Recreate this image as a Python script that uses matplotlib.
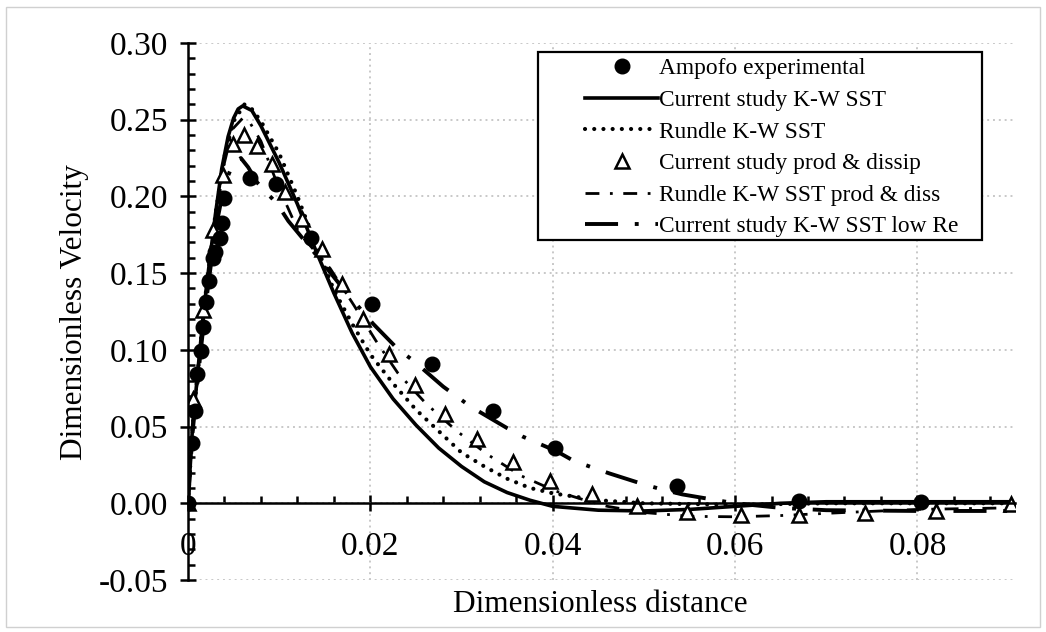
import numpy as np
import matplotlib.pyplot as plt
from matplotlib.patches import Rectangle
from matplotlib.ticker import MultipleLocator, FuncFormatter

plt.rcParams['font.family'] = ['Liberation Serif', 'DejaVu Serif']

## Ampofo experimental (filled circles)
amp_x = [0.0, 0.0004, 0.0008, 0.0010, 0.0014, 0.0016, 0.0020, 0.0023, 0.0027, 0.0030,
         0.0035, 0.0037, 0.0040, 0.0068, 0.0096, 0.0135, 0.0202, 0.0268, 0.0334, 0.0403,
         0.0536, 0.0670, 0.0804]
amp_y = [0.0, 0.039, 0.060, 0.084, 0.099, 0.115, 0.131, 0.145, 0.160, 0.164,
         0.173, 0.183, 0.199, 0.212, 0.208, 0.173, 0.130, 0.091, 0.060, 0.036,
         0.011, 0.0013, 0.0006]

## current study K-W SST (solid)
sst_x = [0.0, 0.0005, 0.0013, 0.002, 0.003, 0.0037, 0.0044, 0.005, 0.0055, 0.006, 0.007,
         0.008, 0.010, 0.012, 0.014, 0.016, 0.018, 0.020, 0.0225, 0.025, 0.0275,
         0.030, 0.0325, 0.035, 0.0375, 0.040, 0.045, 0.050, 0.055, 0.060, 0.065,
         0.070, 0.080, 0.090]
sst_y = [0.0, 0.050, 0.100, 0.140, 0.188, 0.218, 0.239, 0.251, 0.257, 0.259, 0.256,
         0.246, 0.222, 0.195, 0.165, 0.137, 0.111, 0.089, 0.068, 0.051, 0.036,
         0.024, 0.014, 0.007, 0.002, -0.002, -0.0045, -0.005, -0.004, -0.002, 0.0,
         0.001, 0.001, 0.001]

## Rundle K-W SST (dotted)
run_x = [0.0, 0.0005, 0.0013, 0.002, 0.003, 0.004, 0.005, 0.0062, 0.007, 0.008,
         0.010, 0.012, 0.014, 0.016, 0.018, 0.020, 0.0225, 0.025, 0.0275, 0.030,
         0.0325, 0.035, 0.0375, 0.040, 0.045, 0.050, 0.060, 0.070, 0.090]
run_y = [0.0, 0.050, 0.100, 0.140, 0.188, 0.226, 0.249, 0.260, 0.257, 0.249,
         0.228, 0.200, 0.169, 0.139, 0.117, 0.097, 0.078, 0.061, 0.047, 0.033,
         0.024, 0.016, 0.010, 0.0065, 0.002, 0.0, -0.001, 0.0, 0.0]

## current study prod & dissip (open triangles)
pd_x = [0.0, 0.0005, 0.0016, 0.0027, 0.0038, 0.0049, 0.0061, 0.0076, 0.0092, 0.0106,
        0.0125, 0.0147, 0.0169, 0.0192, 0.0220, 0.0249, 0.0282, 0.0317, 0.0356, 0.0397,
        0.0443, 0.0492, 0.0547, 0.0607, 0.0670, 0.0742, 0.0820, 0.0903]
pd_y = [0.0, 0.068, 0.126, 0.178, 0.214, 0.234, 0.240, 0.233, 0.221, 0.203,
        0.185, 0.1656, 0.143, 0.120, 0.0975, 0.077, 0.058, 0.0416, 0.027, 0.0143,
        0.0058, -0.002, -0.006, -0.0075, -0.0075, -0.0065, -0.005, -0.0006]

## Rundle K-W SST prod & diss (thin dash-dot)
rpd_x = [0.0, 0.0005, 0.0013, 0.002, 0.003, 0.004, 0.0049, 0.006, 0.0068, 0.008,
         0.0098, 0.0122, 0.0156, 0.0182, 0.0206, 0.023, 0.0261, 0.0295, 0.0328, 0.0365,
         0.0403, 0.043, 0.046, 0.050, 0.055, 0.060, 0.065, 0.072, 0.080, 0.090]
rpd_y = [0.0, 0.048, 0.097, 0.136, 0.185, 0.222, 0.244, 0.251, 0.248, 0.236,
         0.208, 0.176, 0.153, 0.129, 0.106, 0.085, 0.065, 0.047, 0.032, 0.018,
         0.008, 0.003, -0.002, -0.006, -0.0085, -0.0088, -0.008, -0.006, -0.004, -0.003]

## current study K-W SST low Re (thick long dash-dot)
low_x = [0.0, 0.0005, 0.0013, 0.002, 0.003, 0.004, 0.0050, 0.0058, 0.0066, 0.0076,
         0.0098, 0.011, 0.0135, 0.017, 0.0203, 0.023, 0.0247, 0.028, 0.031, 0.035,
         0.0367, 0.0404, 0.0422, 0.0443, 0.0462, 0.050, 0.052, 0.0542, 0.057, 0.060,
         0.065, 0.070, 0.080, 0.090]
low_y = [0.0, 0.046, 0.094, 0.132, 0.178, 0.208, 0.222, 0.225, 0.219, 0.209,
         0.195, 0.184, 0.166, 0.140, 0.117, 0.1006, 0.093, 0.076, 0.063, 0.049,
         0.0435, 0.034, 0.028, 0.0234, 0.0195, 0.0123, 0.009, 0.0058, 0.003, 0.0,
         -0.003, -0.0045, -0.005, -0.005]

fig = plt.figure(figsize=(10.46, 6.32), dpi=100)
ax = fig.add_axes([188/1046, 52/632, 827/1046, 537/632])

ax.plot(sst_x, sst_y, color='black', lw=2.6, label='Current study K-W SST', zorder=3)
ax.plot(run_x, run_y, color='black', lw=3.0, linestyle=(0, (0.01, 2.2)),
        dash_capstyle='round', label='Rundle K-W SST', zorder=3)
ax.plot(rpd_x, rpd_y, color='black', lw=2.0, linestyle=(0, (5, 3.8, 1, 3.8)),
        label='Rundle K-W SST prod & diss', zorder=3)
ax.plot(low_x, low_y, color='black', lw=2.8, linestyle=(0, (8.5, 4.3, 1, 4.3)),
        label='Current study K-W SST low Re', zorder=3)
ax.plot(pd_x, pd_y, linestyle='none', marker='^', markersize=9.5, markerfacecolor='white',
        markeredgecolor='black', markeredgewidth=1.8, label='Current study prod & dissip', zorder=4)
ax.plot(amp_x, amp_y, linestyle='none', marker='o', markersize=10.5, color='black',
        label='Ampofo experimental', zorder=5)

ax.set_xlim(0, 0.0907)
ax.set_ylim(-0.05, 0.30)

ax.spines['top'].set_visible(False)
ax.spines['right'].set_visible(False)
ax.spines['bottom'].set_position(('data', 0))
ax.spines['left'].set_position(('data', 0))
for s in ['bottom', 'left']:
    ax.spines[s].set_linewidth(1.8)
    ax.spines[s].set_zorder(6)

ax.xaxis.set_major_locator(MultipleLocator(0.02))
ax.xaxis.set_minor_locator(MultipleLocator(0.004))
ax.yaxis.set_major_locator(MultipleLocator(0.05))
ax.yaxis.set_minor_locator(MultipleLocator(0.01))
ax.xaxis.set_major_formatter(FuncFormatter(lambda v, p: '0' if abs(v) < 1e-9 else '%.2f' % v))
ax.yaxis.set_major_formatter(FuncFormatter(lambda v, p: '%.2f' % v))

ax.tick_params(which='major', direction='inout', length=11, width=1.8, labelsize=24)
ax.tick_params(which='minor', direction='in', length=5, width=1.8)
ax.tick_params(axis='x', which='major', pad=15)
ax.tick_params(axis='y', which='major', pad=9)

ax.grid(which='major', color='#c8c8c8', linestyle=(0, (1, 2)), linewidth=1.4)
ax.set_axisbelow(True)

fig.text(600/1046, 1 - 605/632, 'Dimensionless distance', fontsize=22.5, ha='center', va='center')
fig.text(75/1046, 1 - 312/632, 'Dimensionless Velocity', fontsize=22.5, ha='center', va='center',
         rotation=90)

## legend box and entries
box = Rectangle((538/1046, 1 - 240/632), 444/1046, 188/632, transform=fig.transFigure,
                facecolor='white', edgecolor='black', lw=1.6, zorder=7)
ax.add_patch(box)
handles, labels = ax.get_legend_handles_labels()
order = ['Ampofo experimental', 'Current study K-W SST', 'Rundle K-W SST',
         'Current study prod & dissip', 'Rundle K-W SST prod & diss', 'Current study K-W SST low Re']
hmap = dict(zip(labels, handles))
leg = ax.legend([hmap[k] for k in order], order, loc='upper left',
                bbox_to_anchor=(585/1046, 1 - 58/632), bbox_transform=fig.transFigure,
                frameon=False, borderpad=0, borderaxespad=0, fontsize=16.8,
                handlelength=3.13, handletextpad=0.05, labelspacing=0.44, numpoints=1)
leg.set_zorder(8)

fig.patches.append(Rectangle((6/1046, 5/632), 1034/1046, 620/632, transform=fig.transFigure,
                             fill=False, edgecolor='#d0d0d0', lw=1.0))

fig.savefig('out.png', dpi=100)
